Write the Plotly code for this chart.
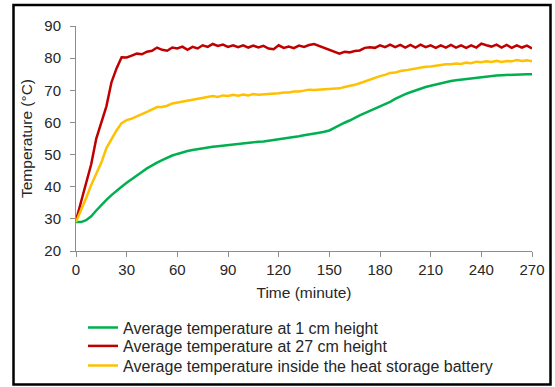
import plotly.graph_objects as go

# Sampling times (minutes)
time_min = list(range(0, 271, 3))

# Average temperature at 1 cm height (°C)
temp_1cm = [
    29.0, 29.0, 29.6, 30.8, 32.6, 34.4, 35.9, 37.4, 38.8, 40.0,
    41.2, 42.4, 43.6, 44.6, 45.7, 46.7, 47.5, 48.3, 49.1, 49.7,
    50.2, 50.7, 51.1, 51.4, 51.7, 52.0, 52.2, 52.4, 52.6, 52.8,
    52.9, 53.1, 53.3, 53.5, 53.6, 53.8, 54.0, 54.1, 54.3, 54.5,
    54.7, 54.9, 55.1, 55.4, 55.7, 56.0, 56.2, 56.5, 56.8, 57.1,
    57.5, 58.3, 59.2, 59.9, 60.6, 61.5, 62.2, 62.9, 63.6, 64.3,
    64.8, 65.6, 66.4, 67.3, 68.1, 68.8, 69.4, 70.0, 70.5, 71.0,
    71.4, 71.8, 72.1, 72.4, 72.9, 73.1, 73.3, 73.5, 73.8, 74.0,
    74.2, 74.4, 74.5, 74.6, 74.7, 74.8, 74.8, 74.9, 74.9, 75.0,
    75.0,
]

# Average temperature at 27 cm height (°C)
temp_27cm = [
    29.5, 35.5, 41.5, 47.0, 55.0, 60.0, 65.0, 72.5, 76.8, 80.3,
    80.2, 80.8, 81.4, 81.2, 82.0, 82.3, 83.3, 82.6, 82.3, 83.3,
    83.0, 83.6, 82.6, 83.5, 83.0, 84.0, 83.5, 84.4, 83.8, 84.2,
    83.5, 84.0, 83.4, 84.0, 83.3, 83.9, 83.3, 83.8, 83.0, 82.8,
    84.0, 83.2, 83.6, 83.1, 83.9, 83.5, 84.1, 84.4, 83.8, 83.2,
    82.7, 82.1, 81.4, 82.0, 81.8, 82.2, 82.4, 83.2, 83.4, 83.2,
    84.0, 83.4, 84.2, 83.4, 84.1, 83.3, 84.1, 83.3, 84.2, 83.4,
    84.0, 83.2, 84.0, 83.3, 84.1, 83.3, 84.0, 83.2, 84.0, 83.3,
    84.5, 84.0, 83.6, 84.2, 83.3, 84.1, 83.2, 84.0, 83.3, 83.9,
    83.0,
]

# Average temperature inside the heat storage battery (°C)
temp_battery = [
    29.0, 32.5, 36.5, 40.5, 44.0, 47.5, 52.0, 55.0, 57.5, 59.8,
    60.7, 61.2, 62.0, 62.6, 63.3, 64.0, 64.8, 64.8, 65.2, 65.9,
    66.2, 66.5, 66.8, 67.0, 67.5, 67.6, 68.0, 68.2, 67.9, 68.4,
    68.2, 68.6, 68.3, 68.7, 68.4, 68.8, 68.6, 68.7, 68.9, 68.8,
    69.1, 69.3, 69.3, 69.6, 69.6, 69.9, 70.2, 70.1, 70.2, 70.1,
    70.3, 70.4, 70.6, 71.0, 71.3, 71.7, 72.2, 72.8, 73.4, 74.0,
    74.4, 74.8, 75.4, 75.5, 76.0, 76.2, 76.5, 76.8, 76.9, 77.3,
    77.4, 77.7, 77.8, 78.1, 78.1, 78.3, 78.2, 78.6, 78.4, 78.9,
    78.7, 79.0, 78.8, 79.2, 78.8, 79.1, 79.0, 79.4, 79.1, 79.3,
    79.0,
]

x_ticks = list(range(0, 271, 30))
y_ticks = list(range(20, 91, 10))

series = [
    ("Average temperature at 1 cm height", temp_1cm, "#00B050"),
    ("Average temperature at 27 cm height", temp_27cm, "#C00000"),
    ("Average temperature inside the heat storage battery", temp_battery, "#FFC000"),
]

FONT = "Liberation Sans, Arial, sans-serif"
TEXT = "#262626"
AXIS = "#8C8C8C"

W, H = 555, 387
ML, MR, MT, MB = 76, 23, 26, 136
pw, ph = W - ML - MR, H - MT - MB


def px_to_paper_x(px):
    return (px - ML) / pw


def py_to_paper_y(py):
    return (H - MB - py) / ph


# One legend per series so the rows sit tightly stacked below the axes
legend_ids = ["legend", "legend2", "legend3"]
legend_tops = [310.5, 329, 348.5]

fig = go.Figure()
for (name, values, color), lid in zip(series, legend_ids):
    fig.add_trace(go.Scatter(
        x=time_min, y=values, mode="lines", name=name,
        line=dict(color=color, width=2.5), legend=lid,
    ))

axis_common = dict(
    showgrid=False, zeroline=False, showline=True, linecolor=AXIS, linewidth=1,
    ticks="outside", ticklen=5, tickcolor=AXIS, tickwidth=1,
    tickfont=dict(family=FONT, size=15, color=TEXT),
    automargin=False,
)

fig.update_xaxes(
    range=[0, 270], tickvals=x_ticks,
    title=dict(text="Time (minute)", font=dict(family=FONT, size=15.5, color=TEXT), standoff=10),
    **axis_common,
)
fig.update_yaxes(
    range=[20, 90], tickvals=y_ticks, ticklabelstandoff=6,
    title=dict(text="Temperature (°C)", font=dict(family=FONT, size=15.5, color=TEXT), standoff=7),
    **axis_common,
)

# Outer frame around the whole chart
fig.add_shape(
    type="rect", xref="paper", yref="paper",
    x0=px_to_paper_x(13.5), x1=px_to_paper_x(550.5),
    y0=py_to_paper_y(384.5), y1=py_to_paper_y(5),
    line=dict(color="black", width=2.5), fillcolor="rgba(0,0,0,0)",
)

legend_style = dict(
    xanchor="left", yanchor="top",
    font=dict(family=FONT, size=16, color=TEXT),
    bgcolor="rgba(0,0,0,0)", borderwidth=0, itemwidth=30,
)

layout_legends = {
    lid: dict(x=px_to_paper_x(83), y=py_to_paper_y(top), **legend_style)
    for lid, top in zip(legend_ids, legend_tops)
}

fig.update_layout(
    width=W, height=H,
    margin=dict(l=ML, r=MR, t=MT, b=MB, autoexpand=False),
    paper_bgcolor="white", plot_bgcolor="white",
    font=dict(family=FONT, size=15, color=TEXT),
    showlegend=True,
    **layout_legends,
)

fig.write_html("out.html")
